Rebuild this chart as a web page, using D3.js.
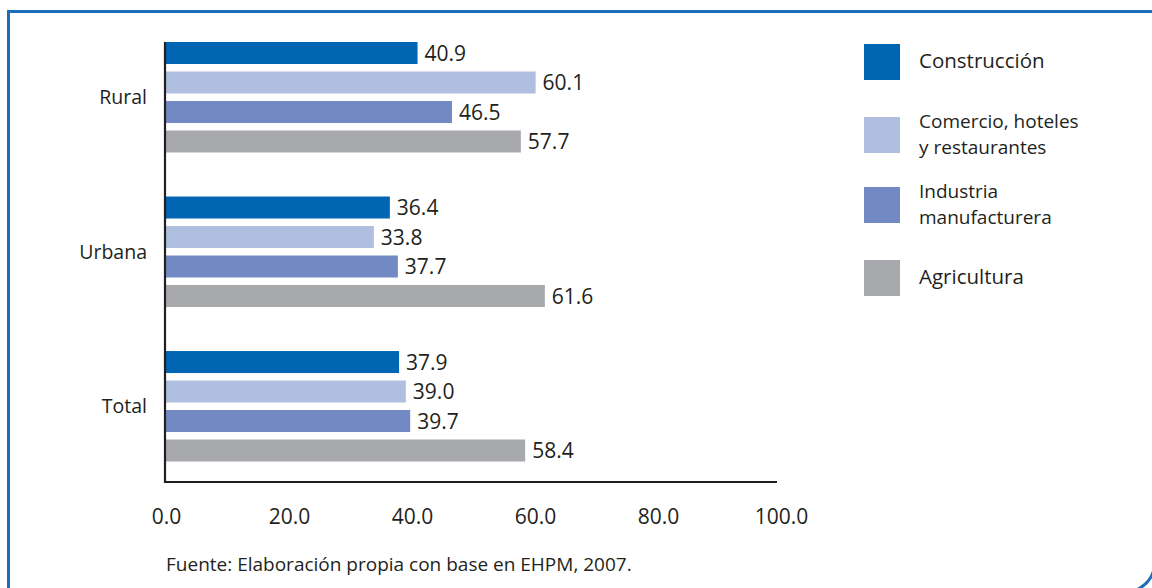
<!DOCTYPE html>
<html>
<head>
<meta charset="utf-8">
<script src="https://cdn.jsdelivr.net/npm/d3@7"></script>
<style>
  html, body { margin: 0; padding: 0; background: #fff; }
  svg { display: block; font-family: "Open Sans", "Noto Sans", sans-serif; }
</style>
</head>
<body>
<svg id="chart" width="1152" height="588"></svg>
<script>
// ---- data ----
const categories = ["Rural", "Urbana", "Total"];
const seriesNames = ["Construcción", "Comercio, hoteles y restaurantes", "Industria manufacturera", "Agricultura"];
const legendLines = [["Construcción"], ["Comercio, hoteles", "y restaurantes"], ["Industria", "manufacturera"], ["Agricultura"]];
const construccion = [40.9, 36.4, 37.9];
const comercio = [60.1, 33.8, 39.0];
const industria = [46.5, 37.7, 39.7];
const agricultura = [57.7, 61.6, 58.4];
const xTicks = [0, 20, 40, 60, 80, 100];
const source = "Fuente: Elaboración propia con base en EHPM, 2007.";
const colors = ["#0066b3", "#b0bedf", "#7389c3", "#a8a9ad"];

const seriesValues = [construccion, comercio, industria, agricultura];
const rows = categories.map((c, i) => ({
  cat: c,
  vals: seriesNames.map((s, j) => ({ series: s, idx: j, value: seriesValues[j][i] }))
}));

const svg = d3.select("#chart");
const textColor = "#231f20";

// frame
const frame = d3.path();
frame.moveTo(1160, 11.5);
frame.lineTo(8.5, 11.5);
frame.lineTo(8.5, 600);
svg.append("path").attr("d", frame.toString())
  .attr("fill", "none").attr("stroke", "#1b6fba").attr("stroke-width", 3);
const corner = d3.path();
corner.arc(1125, 562, 30, Math.PI * 0.55, Math.PI * 0.1, true);
svg.append("path").attr("d", corner.toString())
  .attr("fill", "none").attr("stroke", "#1b6fba").attr("stroke-width", 3);

// scales
const x = d3.scaleLinear().domain([0, 100]).range([166, 781]);
const y0 = d3.scaleBand().domain(categories).range([42, 461.5]).paddingInner(0.285).paddingOuter(0);
const y1 = d3.scaleBand().domain(seriesNames).range([0, y0.bandwidth()]).paddingInner(0.254).paddingOuter(0);

// bars
const g = svg.selectAll("g.grp").data(rows).join("g")
  .attr("class", "grp")
  .attr("transform", d => `translate(0,${y0(d.cat)})`);

g.selectAll("rect").data(d => d.vals).join("rect")
  .attr("x", x(0))
  .attr("y", d => y1(d.series))
  .attr("width", d => x(d.value) - x(0))
  .attr("height", y1.bandwidth())
  .attr("fill", d => colors[d.idx]);

g.selectAll("text.val").data(d => d.vals).join("text")
  .attr("class", "val")
  .attr("x", d => x(d.value) + 7)
  .attr("y", d => y1(d.series) + y1.bandwidth() / 2)
  .attr("dy", "0.36em")
  .attr("font-size", 21)
  .attr("fill", textColor)
  .text(d => d.value.toFixed(1));

// category labels
svg.selectAll("text.cat").data(categories).join("text")
  .attr("class", "cat")
  .attr("x", 147)
  .attr("y", d => y0(d) + y0.bandwidth() / 2)
  .attr("dy", "0.36em")
  .attr("text-anchor", "end")
  .attr("font-size", 19.5)
  .attr("fill", textColor)
  .text(d => d);

// axes lines
svg.append("line").attr("x1", 165).attr("x2", 165).attr("y1", 42).attr("y2", 483)
  .attr("stroke", textColor).attr("stroke-width", 2.2);
svg.append("line").attr("x1", 164).attr("x2", 777).attr("y1", 482).attr("y2", 482)
  .attr("stroke", textColor).attr("stroke-width", 2.2);

// x axis tick labels
const xAxis = d3.axisBottom(x).tickValues(xTicks).tickSize(0).tickPadding(0)
  .tickFormat(d => d3.format(".1f")(d));
const ax = svg.append("g").attr("transform", "translate(0,516)").call(xAxis);
ax.select(".domain").remove();
ax.selectAll("text")
  .attr("font-size", 21)
  .attr("font-family", "'Open Sans', sans-serif")
  .attr("fill", textColor)
  .attr("dy", "0.36em")
  .attr("y", 0);

// legend
const lg = svg.selectAll("g.leg").data(legendLines).join("g")
  .attr("class", "leg");
const legY = [44, 117, 187, 260];
lg.attr("transform", (d, i) => `translate(864,${legY[i]})`);
lg.append("rect").attr("width", 36).attr("height", 36).attr("fill", (d, i) => colors[i]);
lg.each(function(lines) {
  const gg = d3.select(this);
  const n = lines.length;
  const fs = n > 1 ? 19 : 20.5;
  lines.forEach((l, k) => {
    gg.append("text")
      .attr("x", 55)
      .attr("y", 17 + (k - (n - 1) / 2) * 26)
      .attr("dy", "0.36em")
      .attr("font-size", fs)
      .attr("fill", textColor)
      .text(l);
  });
});

// source
svg.append("text")
  .attr("x", 166).attr("y", 564).attr("dy", "0.36em")
  .attr("font-size", 19)
  .attr("fill", textColor)
  .text(source);
</script>
</body>
</html>
